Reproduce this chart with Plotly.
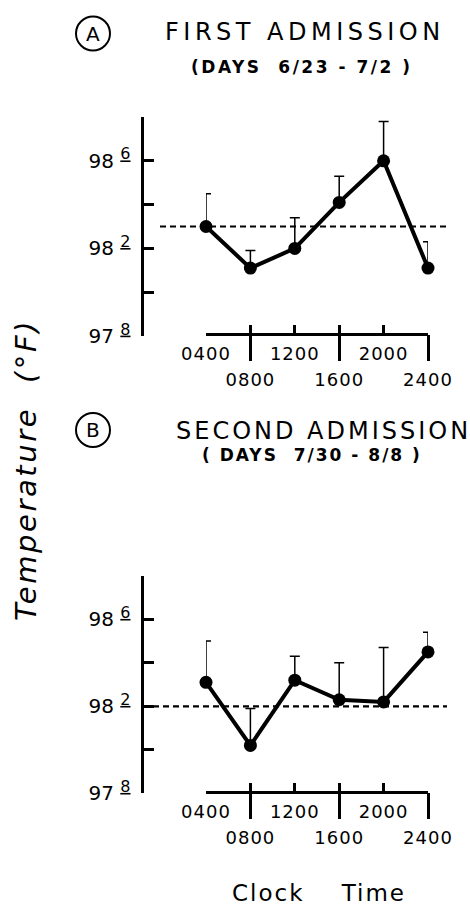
import plotly.graph_objects as go

W, H = 470, 907

# ---- data ----
hours = [4, 8, 12, 16, 20, 24]
clock_labels = ["0400", "0800", "1200", "1600", "2000", "2400"]

temp_first = [98.30, 98.11, 98.20, 98.41, 98.60, 98.11]
sd_first = [0.15, 0.08, 0.14, 0.12, 0.18, 0.12]
mean_first = 98.30

temp_second = [98.31, 98.02, 98.32, 98.23, 98.22, 98.45]
sd_second = [0.19, 0.17, 0.11, 0.17, 0.25, 0.09]
mean_second = 98.20

ytick_vals = [97.8, 98.0, 98.2, 98.4, 98.6, 98.8]
ytick_whole = ["97", "", "98", "", "98", ""]
ytick_frac = ["8", "", "2", "", "6", ""]

title_first = "FIRST ADMISSION"
sub_first = "(DAYS  6/23 - 7/2 )"
title_second = "SECOND ADMISSION"
sub_second = "( DAYS  7/30 - 8/8 )"
y_title = "Temperature  (°F)"
x_title = "Clock    Time"

FONT = "DejaVu Sans"


def px(x):
    return x / W


def py(y):
    return 1 - y / H


def spaced(text, sp):
    return f'<span style="letter-spacing:{sp}px">{text}</span>'


ytick_text = [f'{w} <sup><span style="font-size:16px"><u>{f}</u></span></sup>' if w else ""
              for w, f in zip(ytick_whole, ytick_frac)]
row1_text = [spaced(l, 1) if i % 2 == 0 else "" for i, l in enumerate(clock_labels)]
row2_vals = hours[1::2]
row2_text = [spaced(l, 1) for l in clock_labels[1::2]]

fig = go.Figure()

panels = [
    dict(temps=temp_first, sds=sd_first, mean=mean_first, xa="x", xo="x3", ya="y",
         bottom=336, top=117, xline=334, dash_x0=160),
    dict(temps=temp_second, sds=sd_second, mean=mean_second, xa="x2", xo="x4", ya="y2",
         bottom=793.3, top=575.8, xline=792.3, dash_x0=153),
]

tickfont = dict(family=FONT, size=18, color="black")
ytickfont = dict(family=FONT, size=20, color="black")
layout_axes = {}
shapes = []
for p in panels:
    fig.add_trace(go.Scatter(
        x=hours, y=p["temps"], xaxis=p["xa"], yaxis=p["ya"], mode="lines+markers",
        line=dict(color="black", width=4),
        marker=dict(color="black", size=13),
        error_y=dict(type="data", array=p["sds"], arrayminus=[0] * len(p["sds"]),
                     symmetric=False, color="black", thickness=1.5, width=5),
        cliponaxis=False, showlegend=False, hoverinfo="skip"))
    # empty trace so the overlaying tick axis (long ticks + second label row) is drawn
    fig.add_trace(go.Scatter(x=[], y=[], xaxis=p["xo"], yaxis=p["ya"],
                             showlegend=False, hoverinfo="skip"))

    xname = "xaxis" + p["xa"][1:]
    oname = "xaxis" + p["xo"][1:]
    yname = "yaxis" + p["ya"][1:]
    layout_axes[xname] = dict(
        domain=[px(206), px(428)], range=[4, 24], anchor="free", position=py(p["xline"]),
        showline=True, linecolor="black", linewidth=3,
        ticks="inside", ticklen=8, tickwidth=3, tickcolor="black",
        tickmode="array", tickvals=hours, ticktext=row1_text, tickfont=tickfont,
        ticklabelstandoff=2, showgrid=False, zeroline=False, fixedrange=True)
    layout_axes[oname] = dict(
        overlaying=p["xa"], range=[4, 24], anchor="free", position=py(p["xline"]),
        showline=False, ticks="outside", ticklen=26, tickwidth=3, tickcolor="black",
        tickmode="array", tickvals=row2_vals, ticktext=row2_text, tickfont=tickfont,
        ticklabelstandoff=3, showgrid=False, zeroline=False, fixedrange=True)
    layout_axes[yname] = dict(
        domain=[py(p["bottom"]), py(p["top"])], range=[97.8, 98.8], anchor="free",
        position=px(141.5), showline=True, linecolor="black", linewidth=3,
        ticks="inside", ticklen=10, tickwidth=3, tickcolor="black",
        tickmode="array", tickvals=ytick_vals, ticktext=ytick_text, tickfont=ytickfont,
        ticklabelstandoff=6, showgrid=False, zeroline=False, fixedrange=True)
    shapes.append(dict(type="line", xref="paper", yref=p["ya"], x0=px(p["dash_x0"]), x1=px(447),
                       y0=p["mean"], y1=p["mean"],
                       line=dict(color="black", width=2.2, dash="6px,4px")))

# circled panel letters
for cy in (33.5, 430):
    shapes.append(dict(type="circle", xref="paper", yref="paper",
                       x0=px(76), x1=px(110), y0=py(cy + 17), y1=py(cy - 17),
                       line=dict(color="black", width=2)))


def ann(text, x, y, size, bold=False, italic=False, angle=0):
    return dict(text=text, x=px(x), y=py(y), xref="paper", yref="paper",
                xanchor="center", yanchor="middle", showarrow=False, textangle=angle,
                font=dict(family=FONT, size=size, color="black",
                          weight="bold" if bold else "normal",
                          style="italic" if italic else "normal"))


annotations = [
    ann("A", 93, 33.5, 20),
    ann(spaced(title_first, 4.5), 305, 32, 24),
    ann(spaced(sub_first, 2.5), 301, 67, 17, bold=True),
    ann("B", 93, 430, 20),
    ann(spaced(title_second, 3), 323, 430.5, 24),
    ann(spaced(sub_second, 2), 312, 455, 17, bold=True),
    ann(spaced(y_title, 2.6), 26, 470, 29, italic=True, angle=-90),
    ann(spaced(x_title, 2), 318.5, 893, 23),
]

fig.update_layout(
    width=W, height=H, margin=dict(l=0, r=0, t=0, b=0, pad=0, autoexpand=False),
    paper_bgcolor="white", plot_bgcolor="white",
    shapes=shapes, annotations=annotations, showlegend=False,
    **layout_axes)

fig.write_html("out.html", config={"displayModeBar": False},
               post_script="document.body.style.margin='0';")
